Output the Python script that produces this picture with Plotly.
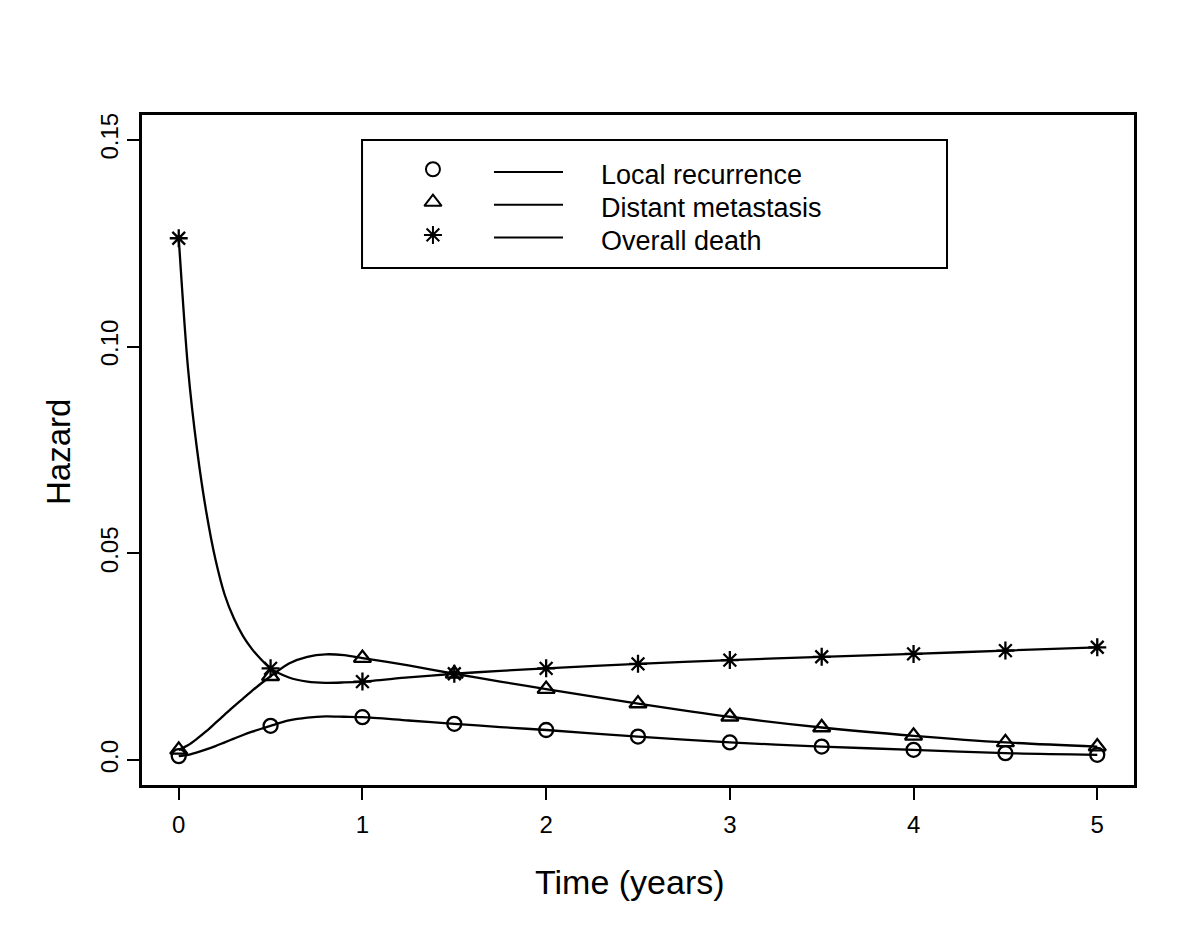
import plotly.graph_objects as go

# ---------------- data ----------------
series_names = ["Local recurrence", "Distant metastasis", "Overall death"]

# time points where the symbols are drawn
marker_time = [0, 0.5, 1, 1.5, 2, 2.5, 3, 3.5, 4, 4.5, 5]
local_marker = [0.0010, 0.0083, 0.0104, 0.0088, 0.0073, 0.0057, 0.0043, 0.0033, 0.0025, 0.0017, 0.0013]
distant_marker = [0.0025, 0.0203, 0.0247, 0.0209, 0.0172, 0.0137, 0.0105, 0.0079, 0.0059, 0.0043, 0.0033]
death_marker = [0.1262, 0.0222, 0.0190, 0.0209, 0.0222, 0.0233, 0.0242, 0.0250, 0.0257, 0.0265, 0.0273]

# smooth hazard curves
curve_time = [0, 0.05, 0.1, 0.15, 0.2, 0.25, 0.3, 0.35, 0.4, 0.45, 0.5, 0.6, 0.7, 0.8, 0.9, 1.0,
              1.25, 1.5, 1.75, 2.0, 2.5, 3, 3.5, 4, 4.5, 5]
local_curve = [0.0010, 0.0013, 0.0019, 0.0026, 0.0034, 0.0043, 0.0052, 0.0061, 0.0069, 0.0076, 0.0083,
               0.0096, 0.0103, 0.0106, 0.0105, 0.0104, 0.0096, 0.0088, 0.0080, 0.0073,
               0.0057, 0.0043, 0.0033, 0.0025, 0.0017, 0.0013]
distant_curve = [0.0025, 0.0036, 0.0052, 0.0070, 0.0090, 0.0110, 0.0130, 0.0149, 0.0168, 0.0186, 0.0203,
                 0.0234, 0.0250, 0.0256, 0.0254, 0.0247, 0.0229, 0.0209, 0.0190, 0.0172,
                 0.0137, 0.0105, 0.0079, 0.0059, 0.0043, 0.0033]
death_curve = [0.1262, 0.0950, 0.0750, 0.0600, 0.0485, 0.0400, 0.0343, 0.0300, 0.0268, 0.0243, 0.0222,
               0.0200, 0.0190, 0.0187, 0.0188, 0.0190, 0.0200, 0.0209, 0.0216, 0.0222,
               0.0233, 0.0242, 0.0250, 0.0257, 0.0265, 0.0273]

x_ticks = [0, 1, 2, 3, 4, 5]
y_ticks = [0.0, 0.05, 0.10, 0.15]
y_tick_text = ["0.0", "0.05", "0.10", "0.15"]
x_title = "Time (years)"
y_title = "Hazard"

# ---------------- styling ----------------
FONT = "Liberation Sans, Arial, Helvetica, sans-serif"
symbols = ["circle-open", "triangle-up-open", "asterisk-open"]
sizes = [14, 15, 15]

fig = go.Figure()

curves = [local_curve, distant_curve, death_curve]
markers = [local_marker, distant_marker, death_marker]
for name, cy, my, sym, sz in zip(series_names, curves, markers, symbols, sizes):
    fig.add_trace(go.Scatter(x=curve_time, y=cy, mode="lines",
                             line=dict(color="black", width=2.3, shape="spline", smoothing=0.8),
                             showlegend=False, hoverinfo="skip"))
    fig.add_trace(go.Scatter(x=marker_time, y=my, mode="markers", name=name,
                             marker=dict(symbol=sym, size=sz, color="black",
                                         line=dict(color="black", width=2.3)),
                             showlegend=False))

# ---------------- custom legend (drawn on an invisible 0..1 overlay axis) ----------------
leg_row_y = [0.915, 0.866, 0.817]
leg_marker_x = 0.2933
leg_line_x0, leg_line_x1 = 0.3548, 0.4244
leg_text_x = 0.4607
for name, sym, sz, ry in zip(series_names, symbols, sizes, leg_row_y):
    fig.add_trace(go.Scatter(x=[leg_marker_x], y=[ry + 0.004], mode="markers", xaxis="x2", yaxis="y2",
                             marker=dict(symbol=sym, size=sz, color="black",
                                         line=dict(color="black", width=2)),
                             showlegend=False, hoverinfo="skip"))
    fig.add_shape(type="line", xref="paper", yref="paper", x0=leg_line_x0, x1=leg_line_x1,
                  y0=ry, y1=ry, line=dict(color="black", width=2))
    fig.add_annotation(x=leg_text_x, y=ry - 0.005, xref="paper", yref="paper", text=name,
                       showarrow=False, xanchor="left", yanchor="middle",
                       font=dict(family=FONT, size=27, color="black"))

fig.add_shape(type="rect", xref="paper", yref="paper", x0=0.2218, x1=0.8115, y0=0.7716, y1=0.9627,
              line=dict(color="black", width=2), fillcolor="rgba(0,0,0,0)")

# axis titles
fig.add_annotation(x=0.492, y=-0.1448, xref="paper", yref="paper", text=x_title, showarrow=False,
                   xanchor="center", yanchor="middle", font=dict(family=FONT, size=34, color="black"))
fig.add_annotation(x=-0.0847, y=0.497, xref="paper", yref="paper", text=y_title, showarrow=False,
                   textangle=-90, xanchor="center", yanchor="middle",
                   font=dict(family=FONT, size=33, color="black"))

fig.update_layout(
    width=1200, height=926,
    margin=dict(l=134, r=74, t=107, b=149),
    paper_bgcolor="white", plot_bgcolor="white",
    font=dict(family=FONT, color="black"),
    xaxis=dict(range=[-0.2, 5.2], tickvals=x_ticks, ticks="outside", ticklen=12, tickwidth=2,
               tickcolor="black", showline=True, linecolor="black", linewidth=2.5, mirror=True,
               showgrid=False, zeroline=False, tickfont=dict(size=24, family=FONT),
               ticklabelstandoff=4),
    yaxis=dict(range=[-0.006, 0.156], tickvals=y_ticks, ticktext=y_tick_text, ticks="outside",
               ticklen=12, tickwidth=2, tickcolor="black", showline=True, linecolor="black",
               linewidth=2.5, mirror=True, showgrid=False, zeroline=False, tickangle=-90,
               tickfont=dict(size=24, family=FONT)),
    xaxis2=dict(overlaying="x", range=[0, 1], visible=False),
    yaxis2=dict(overlaying="y", range=[0, 1], visible=False),
    showlegend=False,
)

fig.write_html("out.html")
